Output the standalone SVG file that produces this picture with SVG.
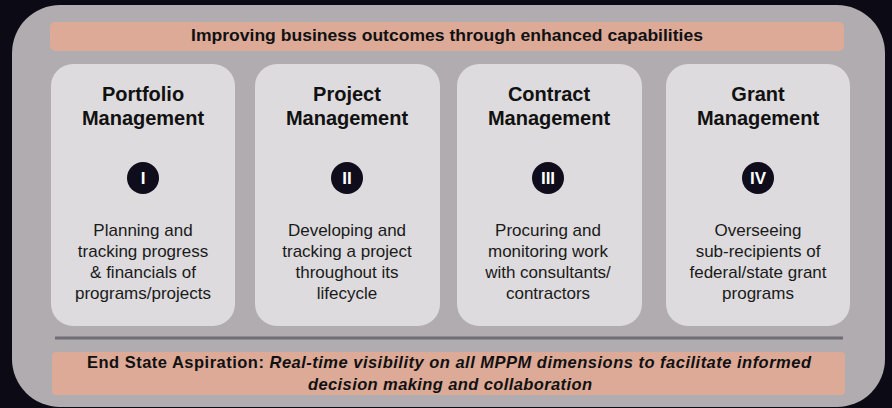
<svg xmlns="http://www.w3.org/2000/svg" width="892" height="408" viewBox="0 0 892 408">
<style>
.band{fill:#ddaa98}
.card{fill:#dddbdd}
.title{font-family:"Liberation Sans",Arial,sans-serif;font-weight:bold;font-size:20px;fill:#111;text-anchor:middle}
.body{font-family:"Liberation Sans",Arial,sans-serif;font-size:17px;fill:#1a1a1a;text-anchor:middle}
.num{font-family:"Liberation Sans",Arial,sans-serif;font-weight:bold;font-size:17px;fill:#fff;text-anchor:middle}
.dot{fill:#0f0c1c}
.hdr{font-family:"Liberation Sans",Arial,sans-serif;font-weight:bold;font-size:16.5px;fill:#111}
</style>
<rect x="0" y="0" width="892" height="408" fill="#0c0a14"/>
<rect x="12" y="5" width="873" height="402" rx="48" fill="#b0acaf"/>
<g id="top-band">
<rect class="band" x="50" y="22" width="794" height="29" rx="5"/>
<text class="hdr" x="447" y="41" text-anchor="middle" textLength="512" lengthAdjust="spacingAndGlyphs">Improving business outcomes through enhanced capabilities</text>
</g>
<g id="card1">
<rect class="card" x="51" y="64" width="184" height="262" rx="22"/>
<text class="title" x="143" y="101">Portfolio</text>
<text class="title" x="143" y="125">Management</text>
<circle class="dot" cx="143" cy="178" r="16"/>
<text class="num" x="143" y="184">I</text>
<text class="body" x="143" y="236">Planning and</text>
<text class="body" x="143" y="257">tracking progress</text>
<text class="body" x="143" y="278">&amp; financials of</text>
<text class="body" x="143" y="299">programs/projects</text>
</g>
<g id="card2">
<rect class="card" x="255" y="64" width="185" height="262" rx="22"/>
<text class="title" x="347" y="101">Project</text>
<text class="title" x="347" y="125">Management</text>
<circle class="dot" cx="347" cy="178" r="16"/>
<text class="num" x="347" y="184">II</text>
<text class="body" x="347" y="236">Developing and</text>
<text class="body" x="347" y="257">tracking a project</text>
<text class="body" x="347" y="278">throughout its</text>
<text class="body" x="347" y="299">lifecycle</text>
</g>
<g id="card3">
<rect class="card" x="457" y="64" width="185" height="262" rx="22"/>
<text class="title" x="549" y="101">Contract</text>
<text class="title" x="549" y="125">Management</text>
<circle class="dot" cx="548" cy="178" r="16"/>
<text class="num" x="548" y="184">III</text>
<text class="body" x="548" y="236">Procuring and</text>
<text class="body" x="548" y="257">monitoring work</text>
<text class="body" x="548" y="278">with consultants/</text>
<text class="body" x="548" y="299">contractors</text>
</g>
<g id="card4">
<rect class="card" x="666" y="64" width="184" height="262" rx="22"/>
<text class="title" x="758" y="101">Grant</text>
<text class="title" x="758" y="125">Management</text>
<circle class="dot" cx="758" cy="178" r="16"/>
<text class="num" x="758" y="184">IV</text>
<text class="body" x="758" y="236">Overseeing</text>
<text class="body" x="758" y="257">sub-recipients of</text>
<text class="body" x="758" y="278">federal/state grant</text>
<text class="body" x="758" y="299">programs</text>
</g>
<g id="connectors">
<line x1="55" y1="338" x2="843" y2="338" stroke="#6e6d75" stroke-width="3"/>
</g>
<g id="bottom-band">
<rect class="band" x="52" y="352" width="793" height="43" rx="4"/>
<text class="hdr" x="87" y="368" font-size="16" textLength="724" lengthAdjust="spacing">End State Aspiration: <tspan font-style="italic">Real-time visibility on all MPPM dimensions to facilitate informed</tspan></text>
<text class="hdr" x="450" y="390" font-size="16" text-anchor="middle" font-style="italic" textLength="284" lengthAdjust="spacing">decision making and collaboration</text>
</g>
</svg>
